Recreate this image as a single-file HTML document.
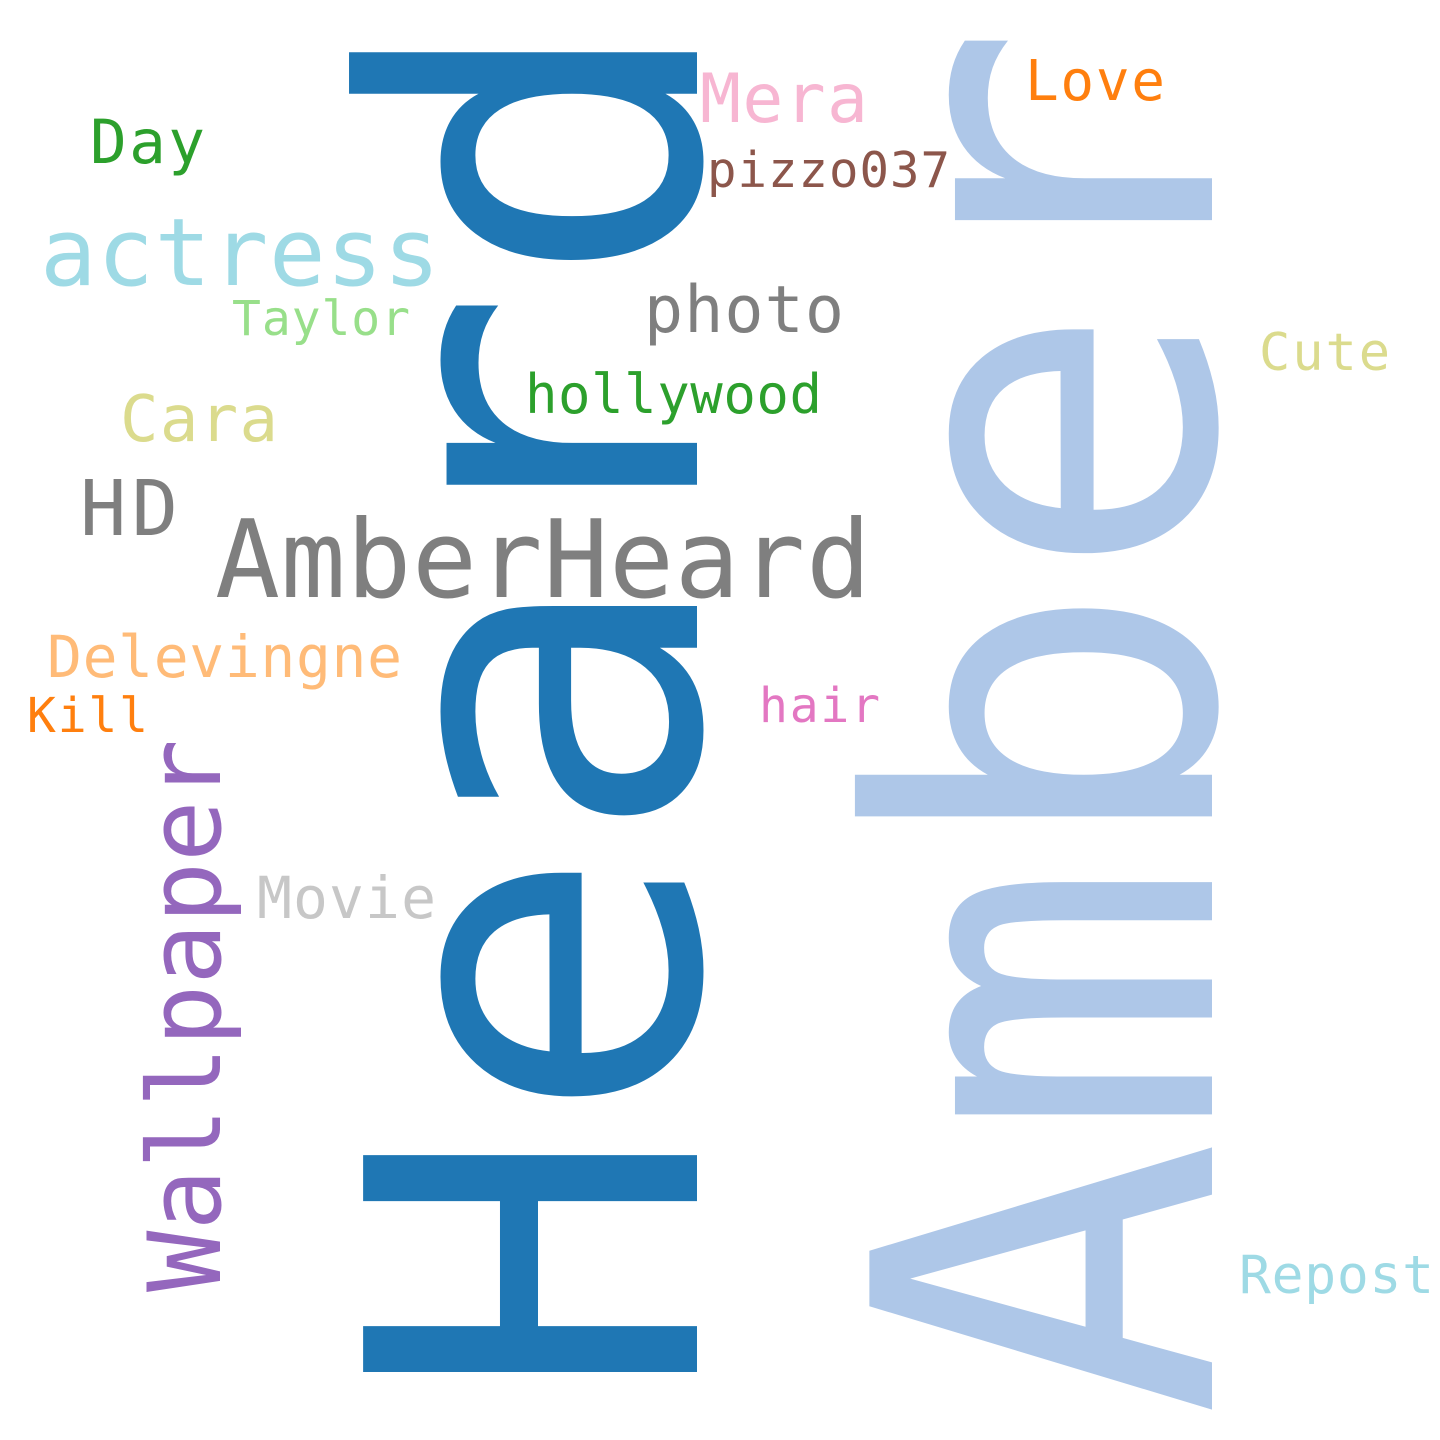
<!DOCTYPE html>
<html><head><meta charset="utf-8"><style>
html,body{margin:0;padding:0;background:#fff;}
svg{display:block}
text{font-family:"DejaVu Sans Mono","Liberation Mono",monospace;}
</style></head><body>
<svg width="1440" height="1440" viewBox="0 0 1440 1440">
<rect width="1440" height="1440" fill="#fff"/>
<text transform="translate(697,1403) rotate(-90)" font-size="458" fill="#1f77b4" textLength="1394" lengthAdjust="spacingAndGlyphs">Heard</text>
<text transform="translate(1212,1418) rotate(-90)" font-size="470" fill="#aec7e8" textLength="1395" lengthAdjust="spacingAndGlyphs">Amber</text>
<text transform="translate(220,1292) rotate(-90)" font-size="101" fill="#9467bd" textLength="553" lengthAdjust="spacingAndGlyphs">Wallpaper</text>
<text x="700" y="122" font-size="68" fill="#f7b6d2" textLength="168">Mera</text>
<text x="1025" y="100" font-size="56" fill="#ff7f0e" textLength="140">Love</text>
<text x="90" y="163" font-size="61" fill="#2ca02c" textLength="115">Day</text>
<text x="707" y="187" font-size="49" fill="#8c564b" textLength="243">pizzo037</text>
<text x="40" y="285" font-size="94" fill="#9edae5" textLength="400">actress</text>
<text x="232" y="335" font-size="48" fill="#98df8a" textLength="178">Taylor</text>
<text x="644" y="332" font-size="65" fill="#7f7f7f" textLength="200">photo</text>
<text x="1259" y="370" font-size="52" fill="#dbdb8d" textLength="131">Cute</text>
<text x="525" y="413" font-size="54" fill="#2ca02c" textLength="297">hollywood</text>
<text x="120" y="441" font-size="64" fill="#dbdb8d" textLength="158">Cara</text>
<text x="80" y="535" font-size="77" fill="#7f7f7f" textLength="98">HD</text>
<text x="215" y="597" font-size="108" fill="#7f7f7f" textLength="656">AmberHeard</text>
<text x="47" y="677" font-size="58" fill="#ffbb78" textLength="355">Delevingne</text>
<text x="27" y="732" font-size="48" fill="#ff7f0e" textLength="121">Kill</text>
<text x="759" y="722" font-size="48" fill="#e377c2" textLength="121">hair</text>
<text x="257" y="918" font-size="58" fill="#c7c7c7" textLength="179">Movie</text>
<text x="1239" y="1293" font-size="53" fill="#9edae5" textLength="195">Repost</text>
</svg>
</body></html>
